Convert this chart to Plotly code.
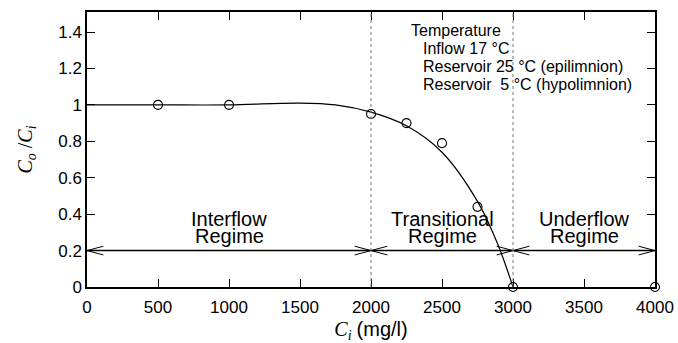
import plotly.graph_objects as go

# Measured ratio of outflow to inflow concentration
ci_obs = [500, 1000, 2000, 2250, 2500, 2750, 3000, 4000]
ratio_obs = [1.0, 1.0, 0.95, 0.9, 0.79, 0.44, 0.0, 0.0]

# Fitted curve (knots of the smooth fit)
ci_fit = [0, 500, 1000, 1500, 1750, 2000, 2250, 2500, 2750, 2890, 3000]
ratio_fit = [1.0, 1.0, 1.0, 1.01, 1.0, 0.96, 0.885, 0.74, 0.47, 0.24, 0.0]

# Regime boundaries and names
bounds = [0, 2000, 3000, 4000]
regime_top = ["Interflow", "Transitional", "Underflow"]
regime_bottom = ["Regime", "Regime", "Regime"]
arrow_y = 0.2

temp_lines = ["Temperature", "Inflow 17 °C", "Reservoir 25 °C (epilimnion)",
              "Reservoir  5 °C (hypolimnion)"]
temp_x = [2265, 2355, 2355, 2355]
temp_y = [1.41, 1.31, 1.21, 1.11]

xticks = list(range(0, 4001, 500))
yticks = [0, 0.2, 0.4, 0.6, 0.8, 1.0, 1.2, 1.4]

sans = "Liberation Sans, Arial, sans-serif"
serif = "Liberation Serif, Times New Roman, serif"

fig = go.Figure()

# Dotted regime boundaries
for b in bounds[1:-1]:
    fig.add_shape(type="line", x0=b, x1=b, y0=0, y1=1, yref="paper",
                  line=dict(color="#777", width=1, dash="dot"))

# Horizontal arrow line
fig.add_trace(go.Scatter(x=[bounds[0], bounds[-1]], y=[arrow_y, arrow_y], mode="lines",
                         line=dict(color="black", width=1.5), hoverinfo="skip",
                         showlegend=False, cliponaxis=False))

# Open chevron arrowheads at each regime boundary, plus regime labels
hx, hy = 115, 0.024
for i in range(len(bounds) - 1):
    a, b = bounds[i], bounds[i + 1]
    fig.add_trace(go.Scatter(
        x=[a + hx, a, a + hx, None, b - hx, b, b - hx],
        y=[arrow_y + hy, arrow_y, arrow_y - hy, None, arrow_y + hy, arrow_y, arrow_y - hy],
        mode="lines", line=dict(color="black", width=1), hoverinfo="skip",
        showlegend=False, cliponaxis=False))
    mid = (a + b) / 2
    fig.add_annotation(x=mid, y=0.374, text=regime_top[i], showarrow=False,
                       yanchor="middle", font=dict(family=sans, size=20, color="black"))
    fig.add_annotation(x=mid, y=0.28, text=regime_bottom[i], showarrow=False,
                       yanchor="middle", font=dict(family=sans, size=20, color="black"))

# Fitted curve
fig.add_trace(go.Scatter(x=ci_fit, y=ratio_fit, mode="lines", line_shape="spline",
                         line=dict(color="black", width=1.2), showlegend=False))

# Observations
fig.add_trace(go.Scatter(x=ci_obs, y=ratio_obs, mode="markers", cliponaxis=False,
                         marker=dict(symbol="circle-open", size=9, color="black",
                                     line=dict(color="black", width=1.1)),
                         showlegend=False))

# Temperature note
for tx, ty, t in zip(temp_x, temp_y, temp_lines):
    fig.add_annotation(x=tx, y=ty, xanchor="left", yanchor="middle",
                       text=t.replace("  ", "&nbsp;&nbsp;"), showarrow=False,
                       font=dict(family=sans, size=16, color="black"))

axis_common = dict(showline=True, linecolor="black", linewidth=1.5, mirror="ticks",
                   ticks="inside", ticklen=8, tickcolor="black", tickwidth=1,
                   showgrid=False, zeroline=False, automargin=False,
                   tickfont=dict(family=sans, size=17, color="black"))

fig.update_layout(
    width=678, height=343,
    margin=dict(l=87, r=23, t=12, b=56),
    plot_bgcolor="white", paper_bgcolor="white",
    xaxis=dict(range=[0, 4000], tickvals=xticks, ticklabelstandoff=4, **axis_common,
               title=dict(text="<i>C<sub>i</sub></i> <span style='font-family:Liberation Sans'>(mg/l)</span>",
                          font=dict(family=serif, size=20, color="black"), standoff=7)),
    yaxis=dict(range=[0, 1.51], tickvals=yticks, **axis_common,
               title=dict(text="<i>C<sub>o</sub></i> /<i>C<sub>i</sub></i>",
                          font=dict(family=serif, size=20, color="black"), standoff=20)),
)

fig.write_html("out.html")
